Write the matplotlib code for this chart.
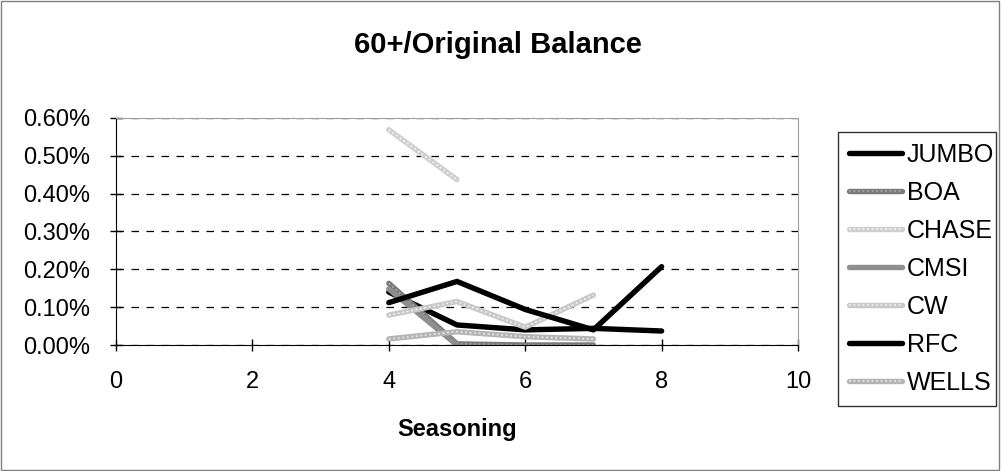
"""Recreate the 60+/Original Balance seasoning chart."""

import matplotlib

matplotlib.use("Agg")
import matplotlib.pyplot as plt
from matplotlib.legend_handler import HandlerTuple
from matplotlib.patches import Rectangle
from matplotlib.ticker import FuncFormatter, MultipleLocator

plt.rcParams["font.family"] = ["Liberation Sans", "DejaVu Sans"]

# values in percent, by seasoning
jumbo_x = [4, 5, 6, 7, 8]
jumbo_y = [0.140, 0.053, 0.040, 0.044, 0.037]
boa_x = [4, 5, 6, 7]
boa_y = [0.163, 0.003, 0.0, 0.0]
chase_x = [4, 5]
chase_y = [0.569, 0.437]
cmsi_x = [4, 5]
cmsi_y = [0.148, 0.0]
cw_x = [4, 5, 6, 7]
cw_y = [0.079, 0.115, 0.047, 0.132]
rfc_x = [4, 5, 6, 7, 8]
rfc_y = [0.112, 0.168, 0.094, 0.040, 0.207]
wells_x = [4, 5, 6, 7]
wells_y = [0.016, 0.035, 0.022, 0.016]

# name, x, y, base colour, texture colour (None = solid)
series = [
    ("JUMBO", jumbo_x, jumbo_y, "#000000", None),
    ("BOA", boa_x, boa_y, "#7a7a7a", "#a8a8a8"),
    ("CHASE", chase_x, chase_y, "#cfcfcf", "#f4f4f4"),
    ("CMSI", cmsi_x, cmsi_y, "#8e8e8e", None),
    ("CW", cw_x, cw_y, "#c8c8c8", "#f0f0f0"),
    ("RFC", rfc_x, rfc_y, "#000000", None),
    ("WELLS", wells_x, wells_y, "#b4b4b4", "#e6e6e6"),
]

fig = plt.figure(figsize=(10.01, 4.71), dpi=100)
fig.patches.append(
    Rectangle((0.001, 0.002), 0.997, 0.995, transform=fig.transFigure,
              fill=False, edgecolor="#808080", linewidth=1)
)
ax = fig.add_axes([0.1159, 0.2675, 0.6813, 0.482])

handles, labels = [], []
for name, xs, ys, color, texture in series:
    base, = ax.plot(xs, ys, color=color, linewidth=3.9,
                    solid_capstyle="round", solid_joinstyle="round")
    if texture:
        top, = ax.plot(xs, ys, color=texture, linewidth=1.3,
                       linestyle=(0, (1, 1.5)))
        handles.append((base, top))
    else:
        handles.append(base)
    labels.append(name)

ax.set_xlim(0, 10)
ax.set_ylim(0, 0.6)
ax.xaxis.set_major_locator(MultipleLocator(2))
ax.yaxis.set_major_locator(MultipleLocator(0.1))
ax.yaxis.set_major_formatter(FuncFormatter(lambda v, _: f"{v:.2f}%"))
ax.tick_params(direction="inout", length=9, width=1, labelsize=17)
ax.tick_params(axis="y", pad=14)
ax.tick_params(axis="x", pad=14)
ax.grid(axis="y", color="black", linestyle=(0, (6, 6)), linewidth=0.9)
ax.set_axisbelow(True)

for side in ("top", "right"):
    ax.spines[side].set_color("#a0a0a0")
    ax.spines[side].set_linestyle((0, (1, 1)))
for side in ("left", "bottom"):
    ax.spines[side].set_color("black")

ax.set_title("60+/Original Balance", fontsize=21, fontweight="bold", pad=47,
             x=0.56)
ax.set_xlabel("Seasoning", fontsize=17, fontweight="bold", labelpad=18)

leg = fig.legend(handles, labels, loc="upper left",
                 bbox_to_anchor=(0.837, 0.125, 0.158, 0.595), mode="expand",
                 fontsize=18, handler_map={tuple: HandlerTuple(ndivide=1)},
                 frameon=True, fancybox=False, edgecolor="black",
                 handlelength=2.1, handletextpad=0.2, labelspacing=0.56,
                 borderpad=0.45, borderaxespad=0)
leg.get_frame().set_linewidth(1)

fig.savefig("out.png", dpi=100)
